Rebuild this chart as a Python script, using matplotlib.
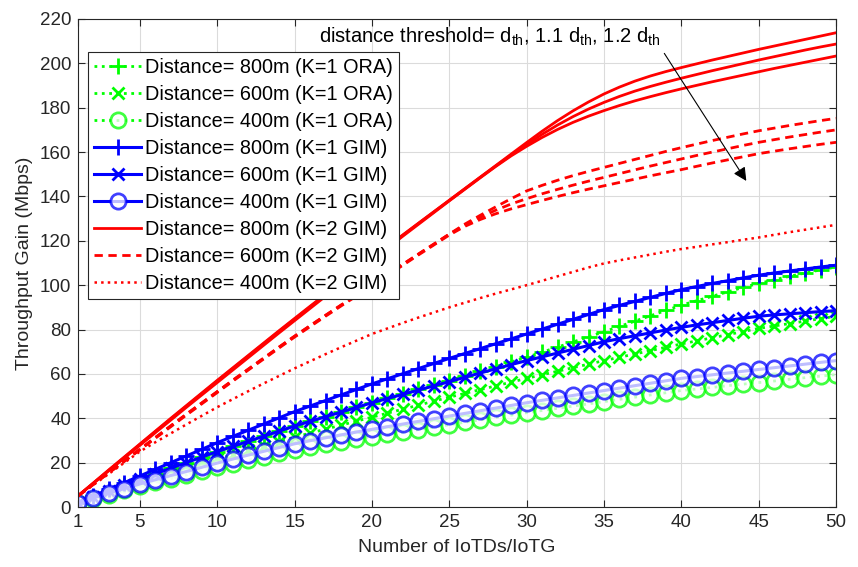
import numpy as np
import matplotlib
matplotlib.use("Agg")
import matplotlib.pyplot as plt

plt.rcParams['font.family'] = ['Liberation Sans', 'DejaVu Sans']
plt.rcParams['mathtext.fontset'] = 'custom'
plt.rcParams['mathtext.rm'] = 'Liberation Sans'
plt.rcParams['mathtext.it'] = 'Liberation Sans'

# number of IoTDs per IoTG
n_iotd = list(range(1, 51))

# K=1, oracle (green)
ora800_k1 = [2.0, 4.6, 7.3, 9.9, 12.5, 15.0, 17.5, 20.0, 22.5, 25.0,
             27.3, 29.6, 31.9, 34.2, 36.5, 38.6, 40.7, 42.8, 44.9, 47.0,
             49.0, 51.0, 53.0, 55.0, 57.0, 59.1, 61.2, 63.3, 65.4, 67.5,
             69.8, 72.1, 74.4, 76.7, 79.0, 81.4, 83.8, 86.2, 88.6, 91.0,
             93.0, 95.0, 97.0, 99.0, 100.8, 102.4, 104.0, 105.5, 106.9, 108.2]
ora600_k1 = [1.9, 4.2, 6.5, 8.8, 11.0, 13.1, 15.2, 17.3, 19.4, 21.5,
             23.5, 25.5, 27.5, 29.5, 31.5, 33.3, 35.1, 36.9, 38.7, 40.5,
             42.3, 44.1, 45.9, 47.7, 49.5, 51.2, 52.9, 54.6, 56.3, 58.0,
             59.6, 61.2, 62.8, 64.4, 66.0, 67.5, 69.0, 70.5, 72.0, 73.5,
             74.9, 76.3, 77.7, 79.1, 80.5, 81.6, 82.7, 83.8, 84.9, 86.0]
ora400_k1 = [1.8, 3.7, 5.6, 7.5, 9.4, 11.1, 12.8, 14.5, 16.2, 17.9,
             19.5, 21.1, 22.7, 24.2, 25.8, 27.0, 28.2, 29.4, 30.6, 31.7,
             32.8, 33.8, 34.9, 36.0, 37.1, 38.2, 39.3, 40.4, 41.4, 42.5,
             43.5, 44.5, 45.5, 46.5, 47.5, 48.5, 49.5, 50.5, 51.5, 52.5,
             53.2, 53.9, 54.7, 55.4, 56.1, 56.8, 57.6, 58.3, 59.0, 59.7]

# K=1, GIM (blue)
gim800_k1 = [2.0, 5.0, 8.0, 11.0, 14.0, 17.0, 20.0, 23.0, 26.0, 29.0,
             31.8, 34.6, 37.4, 40.2, 43.0, 45.5, 48.0, 50.5, 53.0, 55.5,
             57.8, 60.1, 62.4, 64.7, 67.0, 69.2, 71.4, 73.6, 75.8, 78.0,
             80.2, 82.4, 84.6, 86.8, 89.0, 90.9, 92.7, 94.5, 96.3, 98.0,
             99.4, 100.8, 102.0, 103.3, 104.5, 105.5, 106.4, 107.3, 108.2, 109.0]
gim600_k1 = [2.0, 4.6, 7.3, 9.9, 12.5, 15.0, 17.5, 20.0, 22.5, 25.0,
             27.3, 29.6, 31.9, 34.2, 36.5, 38.6, 40.7, 42.8, 44.9, 47.0,
             48.9, 50.8, 52.7, 54.6, 56.5, 58.5, 60.4, 62.3, 64.2, 66.0,
             67.7, 69.4, 71.1, 72.8, 74.5, 75.9, 77.2, 78.5, 79.8, 81.0,
             82.1, 83.1, 84.1, 85.1, 86.0, 86.6, 87.1, 87.6, 88.1, 88.5]
gim400_k1 = [2.0, 4.1, 6.2, 8.3, 10.4, 12.3, 14.2, 16.0, 17.9, 19.8,
             21.6, 23.4, 25.1, 26.8, 28.5, 29.9, 31.2, 32.5, 33.8, 35.0,
             36.2, 37.4, 38.6, 39.8, 41.0, 42.2, 43.4, 44.6, 45.8, 47.0,
             48.1, 49.2, 50.3, 51.4, 52.5, 53.6, 54.7, 55.8, 56.9, 58.0,
             58.8, 59.6, 60.4, 61.2, 62.0, 62.8, 63.6, 64.4, 65.2, 66.0]

# K=2, GIM (red), 800m for d_th, 1.1 d_th, 1.2 d_th
gim800_k2 = [
    [5.0, 10.9, 16.8, 22.6, 28.4, 34.2, 40.0, 45.7, 51.4, 57.1,
     62.7, 68.3, 73.9, 79.5, 85.0, 90.5, 95.9, 101.3, 106.7, 112.1,
     117.4, 122.7, 127.9, 133.1, 138.3, 143.5, 148.7, 153.9, 159.1, 164.3,
     169.4, 174.2, 178.6, 182.6, 186.2, 189.3, 192.0, 194.3, 196.3, 198.1,
     199.8, 201.5, 203.1, 204.7, 206.3, 207.8, 209.3, 210.8, 212.3, 213.8],
    [5.0, 10.8, 16.6, 22.4, 28.2, 34.0, 39.7, 45.4, 51.1, 56.8,
     62.4, 68.0, 73.6, 79.2, 84.7, 90.2, 95.7, 101.1, 106.5, 111.9,
     117.2, 122.5, 127.8, 133.0, 138.2, 143.4, 148.6, 153.7, 158.7, 163.4,
     168.0, 172.2, 176.0, 179.4, 182.4, 185.1, 187.5, 189.6, 191.5, 193.3,
     195.0, 196.7, 198.3, 199.9, 201.5, 203.0, 204.5, 206.0, 207.4, 208.7],
    [5.0, 10.7, 16.4, 22.1, 27.8, 33.5, 39.2, 44.9, 50.5, 56.1,
     61.7, 67.3, 72.9, 78.5, 84.0, 89.5, 95.0, 100.5, 105.9, 111.3,
     116.7, 122.1, 127.4, 132.7, 138.0, 143.2, 148.4, 153.5, 158.3, 162.6,
     166.6, 170.2, 173.4, 176.2, 178.7, 181.0, 183.1, 185.0, 186.8, 188.5,
     190.1, 191.7, 193.2, 194.7, 196.2, 197.7, 199.1, 200.5, 201.9, 203.3],
]
gim600_k2 = [
    [5.0, 10.3, 15.6, 20.8, 26.0, 31.3, 36.6, 41.8, 46.9, 52.0,
     57.1, 62.1, 67.1, 72.1, 77.0, 81.7, 86.4, 91.0, 95.5, 100.0,
     104.7, 109.4, 114.0, 118.5, 123.0, 127.5, 131.5, 135.3, 139.0, 142.5,
     145.0, 147.3, 149.4, 151.3, 153.1, 154.9, 156.7, 158.5, 160.3, 162.0,
     163.6, 165.2, 166.7, 168.2, 169.6, 170.8, 172.0, 173.1, 174.2, 175.2],
    [5.0, 10.3, 15.6, 20.8, 26.0, 31.3, 36.6, 41.8, 46.9, 52.0,
     57.1, 62.1, 67.1, 72.1, 77.0, 81.7, 86.4, 91.0, 95.5, 100.0,
     104.7, 109.4, 114.0, 118.5, 123.0, 127.0, 130.6, 133.8, 136.6, 139.0,
     141.2, 143.2, 145.1, 146.9, 148.6, 150.3, 152.0, 153.7, 155.3, 156.9,
     158.5, 160.0, 161.5, 163.0, 164.4, 165.6, 166.8, 167.9, 169.0, 170.0],
    [5.0, 10.2, 15.4, 20.6, 25.8, 31.0, 36.2, 41.4, 46.5, 51.6,
     56.7, 61.7, 66.7, 71.7, 76.6, 81.3, 86.0, 90.6, 95.1, 99.6,
     104.3, 109.0, 113.6, 118.1, 122.6, 126.5, 129.6, 132.2, 134.4, 136.3,
     138.2, 140.0, 141.7, 143.3, 144.8, 146.3, 147.8, 149.3, 150.7, 152.1,
     153.6, 155.1, 156.5, 157.9, 159.3, 160.4, 161.5, 162.5, 163.5, 164.4],
]
gim400_k2 = [5.0, 10.0, 15.0, 20.0, 25.0, 29.2, 33.2, 37.2, 41.1, 45.0,
             48.6, 52.2, 55.7, 59.1, 62.5, 65.7, 68.9, 72.0, 75.0, 78.0,
             80.5, 83.0, 85.4, 87.7, 90.0, 92.1, 94.2, 96.2, 98.1, 100.0,
             102.0, 104.0, 106.0, 108.0, 109.8, 111.2, 112.5, 113.8, 115.1, 116.3,
             117.3, 118.4, 119.4, 120.5, 121.5, 122.7, 123.9, 125.0, 126.1, 127.2]

x_ticks = [1, 5, 10, 15, 20, 25, 30, 35, 40, 45, 50]
y_ticks = list(range(0, 221, 20))

fig = plt.figure(figsize=(8.58, 5.67), dpi=100)
ax = fig.add_axes([0.0909, 0.1058, 0.8835, 0.8607])

green = (0, 1, 0)
blue = (0, 0, 1)
red = (1, 0, 0)
face = (1, 1, 1, 0.75)
dark = (0.15, 0.15, 0.15)

h1, = ax.plot(n_iotd, ora800_k1, ':', color=green, lw=2, marker='+', ms=11, mew=2,
              label='Distance= 800m (K=1 ORA)')
h2, = ax.plot(n_iotd, ora600_k1, ':', color=green, lw=2, marker='x', ms=9, mew=2,
              label='Distance= 600m (K=1 ORA)')
h3, = ax.plot(n_iotd, ora400_k1, ':', color=green, lw=2, marker='o', ms=11, mew=2,
              mfc=face, label='Distance= 400m (K=1 ORA)')
h4, = ax.plot(n_iotd, gim800_k1, '-', color=blue, lw=2.2, marker='+', ms=11, mew=2,
              label='Distance= 800m (K=1 GIM)')
h5, = ax.plot(n_iotd, gim600_k1, '-', color=blue, lw=2.2, marker='x', ms=9, mew=2,
              label='Distance= 600m (K=1 GIM)')
h6, = ax.plot(n_iotd, gim400_k1, '-', color=blue, lw=2.2, marker='o', ms=11, mew=2,
              mfc=face, label='Distance= 400m (K=1 GIM)')

handles = [h1, h2, h3, h4, h5, h6]
for i, ys in enumerate(gim800_k2):
    h, = ax.plot(n_iotd, ys, '-', color=red, lw=2)
    if i == 0:
        h.set_label('Distance= 800m (K=2 GIM)')
        handles.append(h)
for i, ys in enumerate(gim600_k2):
    h, = ax.plot(n_iotd, ys, '--', color=red, lw=2, dashes=(3, 2))
    if i == 0:
        h.set_label('Distance= 600m (K=2 GIM)')
        handles.append(h)
h, = ax.plot(n_iotd, gim400_k2, ':', color=red, lw=1.8, label='Distance= 400m (K=2 GIM)')
handles.append(h)

ax.set_xlim(1, 50)
ax.set_ylim(0, 220)
ax.set_xticks(x_ticks)
ax.set_yticks(y_ticks)
ax.grid(True, color=(0.86, 0.86, 0.86), lw=0.8)
ax.set_axisbelow(True)
ax.tick_params(direction='in', top=True, right=True, length=5, width=0.8,
               labelsize=13.5, colors=dark, pad=5)
for s in ax.spines.values():
    s.set_color(dark)
    s.set_linewidth(0.8)
ax.set_xlabel('Number of IoTDs/IoTG', fontsize=14, color=dark, labelpad=6)
ax.set_ylabel('Throughput Gain (Mbps)', fontsize=14, color=dark, labelpad=5)

leg = ax.legend(handles=handles, loc='upper left', bbox_to_anchor=(0.013, 0.932),
                borderaxespad=0, fontsize=14.3, handlelength=2.4, handletextpad=0.2,
                labelspacing=0.4, borderpad=0.3, fancybox=False, framealpha=1,
                edgecolor=dark)
leg.get_frame().set_linewidth(0.8)

ax.text(16.6, 209.5, r'distance threshold= d$_{\mathregular{th}}$, 1.1 d$_{\mathregular{th}}$, 1.2 d$_{\mathregular{th}}$',
        fontsize=14.5, va='baseline', ha='left')
ax.annotate('', xy=(44.2, 147), xytext=(38.9, 204.5),
            arrowprops=dict(arrowstyle='-|>', color='k', lw=0.8, mutation_scale=20,
                            shrinkA=0, shrinkB=0))

fig.savefig('out.png', dpi=100)
